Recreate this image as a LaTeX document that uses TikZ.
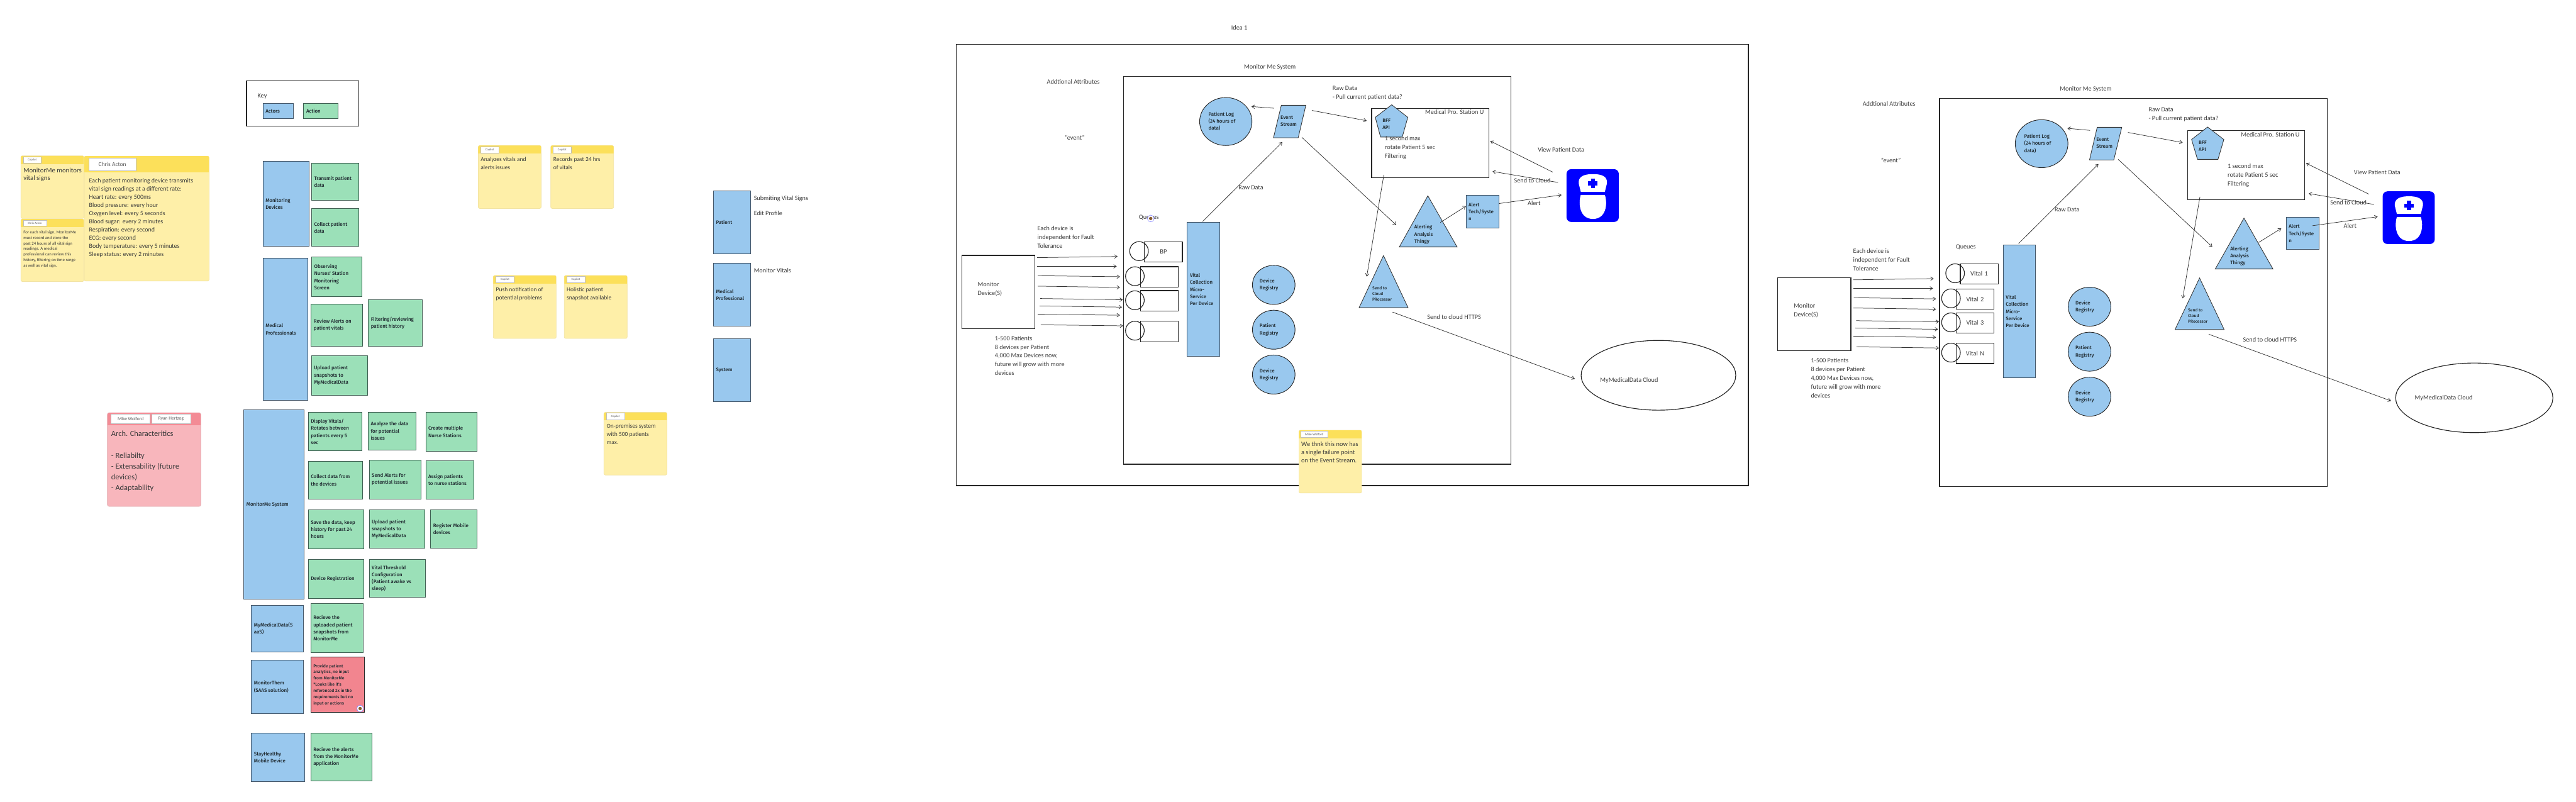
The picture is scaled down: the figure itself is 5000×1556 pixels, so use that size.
\documentclass[tikz,border=0pt]{standalone}
\usepackage{fontspec}
\setmainfont{Carlito}
\newfontfamily\fmed{Fira Sans Medium}
\usetikzlibrary{arrows.meta,shapes.geometric}
\definecolor{actorblue}{HTML}{99C8EE}
\definecolor{actiongreen}{HTML}{9BE0B8}
\definecolor{alertred}{HTML}{F2858F}
\definecolor{stickybody}{HTML}{FEEFA8}
\definecolor{stickyhead}{HTML}{FCE05A}
\definecolor{stickyedge}{HTML}{F2E3A2}
\definecolor{redbody}{HTML}{F8B6BC}
\definecolor{redhead}{HTML}{F38B95}
\definecolor{nurseblue}{HTML}{0000FF}
\definecolor{inktext}{HTML}{1F2A30}
\definecolor{softtext}{HTML}{3A3A3A}
\definecolor{actoredge}{HTML}{44576A}
\definecolor{actionedge}{HTML}{3F5F52}
\tikzset{
  every node/.style={inner sep=0pt,outer sep=0pt},
  shapeedge/.style={line width=0.32pt,draw=black!85},
  actor/.style={shapeedge,draw=actoredge,fill=actorblue,text=inktext,font=\fmed\fontsize{2.75}{3.9}\selectfont},
  action/.style={shapeedge,draw=actionedge,fill=actiongreen,text=inktext,font=\fmed\fontsize{2.75}{3.9}\selectfont},
  redact/.style={shapeedge,fill=alertred,text=inktext,font=\fmed\fontsize{2.35}{3.41}\selectfont},
  whitebox/.style={line width=0.4pt,draw=black!85,fill=none},
  frame/.style={line width=0.5pt,draw=black!85,fill=none},
  queue/.style={line width=0.45pt,draw=black!85,fill=none,align=center,text=softtext,font=\fontsize{3.6}{4.85}\selectfont},
  devicebox/.style={line width=0.45pt,draw=black!85,fill=none,text=softtext,font=\fontsize{3.6}{4.85}\selectfont},
  registry/.style={ellipse,actor,draw=black!85},
  cloudshape/.style={ellipse,line width=0.4pt,draw=black!85,fill=none},
  qcirc/.style={line width=0.4pt,draw=black!85,fill=none},
  solid shape/.style={line width=0.3pt,draw=black!80,fill=actorblue},
  lbl/.style={anchor=north west,align=left,text=softtext,font=\fontsize{3.55}{4.85}\selectfont},
  shapelbl/.style={anchor=north west,align=left,text=inktext,font=\fmed\fontsize{2.75}{3.9}\selectfont},
  tinylbl/.style={anchor=north west,align=left,text=inktext,font=\fmed\fontsize{2.3}{3.1}\selectfont},
  notelbl/.style={anchor=north west,align=left,text=softtext,font=\fontsize{3.3}{4.55}\selectfont},
  bignote/.style={anchor=north west,align=left,text=softtext,font=\fontsize{3.45}{4.52}\selectfont},
  monnote/.style={anchor=north west,align=left,text=softtext,font=\fontsize{3.75}{4.27}\selectfont},
  smallnote/.style={anchor=north west,align=left,text=softtext,font=\fontsize{2.35}{3.07}\selectfont},
  mikenote/.style={anchor=north west,align=left,text=softtext,font=\fontsize{3.6}{4.55}\selectfont},
  archnote/.style={anchor=north west,align=left,text=softtext,font=\fontsize{4.3}{5.97}\selectfont},
  tag/.style={fill=white,draw=black!25,line width=0.2pt,text=black!65,font=\fontsize{1.65}{2}\selectfont},
  tagbig/.style={tag,font=\fontsize{3.3}{4}\selectfont},
  tagmid/.style={tag,font=\fontsize{2.6}{3}\selectfont},
  tagmike/.style={tag,font=\fontsize{1.85}{2}\selectfont},
  conn/.style={line width=0.26pt,draw=black!80,-{Straight Barb[length=1.5pt,width=2pt]}},
}
% #1 style, #2 name, #3-#6 x1 y1 x2 y2, #7 text
\newcommand\cellbox[7]{%
  \pgfmathsetmacro\bxw{(#5-#3)*0.28453}%
  \pgfmathsetmacro\bxh{(#6-#4)*0.28453}%
  \pgfmathsetmacro\bxt{\bxw-2.84}%
  \node[minimum width=\bxw pt,minimum height=\bxh pt,text width=\bxt pt,align=flush left,#1] (#2) at ({(#3+#5)/2},{(#4+#6)/2}) {#7};}
\newcommand\regoval[7]{%
  \pgfmathsetmacro\bxw{(#5-#3)*0.28453}%
  \pgfmathsetmacro\bxh{(#6-#4)*0.28453}%
  \pgfmathsetmacro\bxt{\bxw*0.66}%
  \node[registry,minimum width=\bxw pt,minimum height=\bxh pt,text width=\bxt pt,align=flush left,#1] (#2) at ({(#3+#5)/2},{(#4+#6)/2}) {#7};}
\newcommand\txtat[5]{\node[#1] (#2) at (#3,#4-5.5) {#5};}
\newcommand\linkto[5]{%
  \coordinate (#1-s) at (#2,#3);\coordinate (#1-e) at (#4,#5);
  \draw[conn] (#1-s) -- (#1-e);}
\newcommand\tagbox[6]{%
  \pgfmathsetmacro\bxw{(#4-#2)*0.28453}%
  \pgfmathsetmacro\bxh{(#5-#3)*0.28453}%
  \node[minimum width=\bxw pt,minimum height=\bxh pt,#6] at ({(#2+#4)/2},{(#3+#5)/2}) (#1) {\tagtext};}
% name x1 y1 x2 y2 yhead
\newcommand\stickynote[6]{%
  \pgfmathsetmacro\bxw{(#4-#2)*0.28453}%
  \pgfmathsetmacro\bxh{(#5-#3)*0.28453}%
  \node[minimum width=\bxw pt,minimum height=\bxh pt,fill=stickybody,draw=stickyedge,line width=0.25pt,rounded corners=0.8pt] (#1) at ({(#2+#4)/2},{(#3+#5)/2}) {};
  \begin{scope}
    \clip[rounded corners=0.8pt] (#2,#3) rectangle (#4,#5);
    \fill[stickyhead] (#2,#3) rectangle (#4,#6);
  \end{scope}}
\newcommand\nurseicon[5]{%
  \pgfmathsetmacro\bxw{(#4-#2)*0.28453}%
  \pgfmathsetmacro\bxh{(#5-#3)*0.28453}%
  \node[minimum width=\bxw pt,minimum height=\bxh pt,fill=nurseblue,rounded corners=2.6pt] (#1) at ({(#2+#4)/2},{(#3+#5)/2}) {};
  \pgfmathsetmacro\nicw{(#4-#2)*0.01}%
  \pgfmathsetmacro\nich{(#5-#3)*0.01}%
  \begin{scope}[shift={(#2,#3)},x=\nicw cm,y=-\nich cm]
    \fill[white] (0.273,0.43) -- (0.233,0.27) .. controls (0.22,0.13) and (0.35,0.093) .. (0.506,0.093) .. controls (0.66,0.093) and (0.79,0.13) .. (0.773,0.27) -- (0.733,0.43) -- cycle;
    \fill[white] (0.273,0.487) -- (0.733,0.487) .. controls (0.79,0.65) and (0.76,0.943) .. (0.506,0.943) .. controls (0.25,0.943) and (0.22,0.65) .. (0.273,0.487) -- cycle;
    \fill[nurseblue] (0.416,0.23) rectangle (0.596,0.31);
    \fill[nurseblue] (0.468,0.18) rectangle (0.544,0.36);
  \end{scope}}
\newcommand\avatardot[2]{%
  \fill[white,draw=blue!45!white,line width=0.25pt] (#1,#2) circle [radius=6.5];
  \fill[brown!70!black] (#1,#2) circle [radius=3.2];}
\begin{document}
\begin{tikzpicture}[x=0.01cm,y=-0.01cm]
\useasboundingbox (0,0) rectangle (5000,1556);
% ---- Key
\cellbox{whitebox}{keybox}{478.5}{157.3}{696}{244.3}{}
\txtat{lbl}{keylbl}{500}{187}{Key}
\cellbox{actor}{keyactor}{510.5}{201.3}{569}{230.3}{Actors}
\cellbox{action}{keyaction}{589.5}{201.3}{655.5}{230.3}{Action}
% ---- Notes at the far left
\stickynote{n1}{40.7}{302.3}{162.7}{424}{318}
\def\tagtext{Copilot}\tagbox{n1t}{45}{304.3}{80}{316.3}{tag}
\txtat{monnote}{n1x}{45.5}{331}{MonitorMe monitors\\vital signs}
\stickynote{n2}{40.7}{425}{162.7}{546.3}{440.3}
\def\tagtext{Chris Acton}\tagbox{n2t}{45}{427}{90.4}{439}{tag}
\txtat{smallnote}{n2x}{45.5}{453}{For each vital sign, MonitorMe\\must record and store the\\past 24 hours of all vital sign\\readings. A medical\\professional can review this\\history, filtering on time range\\as well as vital sign.}
\stickynote{n3}{163.6}{303}{405.7}{545.3}{334.7}
\def\tagtext{Chris Acton}\tagbox{n3t}{172.7}{306.7}{263.6}{331.7}{tagbig}
\txtat{bignote}{n3x}{173}{352}{Each patient monitoring device transmits\\vital sign readings at a different rate:\\Heart rate: every 500ms\\Blood pressure: every hour\\Oxygen level: every 5 seconds\\Blood sugar: every 2 minutes\\Respiration: every second\\ECG: every second\\Body temperature: every 5 minutes\\Sleep status: every 2 minutes}
% red note
\pgfmathsetmacro\redw{(389.7-208.6)*0.28453}
\pgfmathsetmacro\redh{(982.7-801)*0.28453}
\node[minimum width=\redw pt,minimum height=\redh pt,fill=redbody,draw=redbody!90!black,line width=0.25pt,rounded corners=1pt] (n4) at (299.15,891.85) {};
\begin{scope}
  \clip[rounded corners=1pt] (208.6,801) rectangle (389.7,982.7);
  \fill[redhead] (208.6,801) rectangle (389.7,824.7);
\end{scope}
\def\tagtext{Mike Wolford}\tagbox{n4a}{215.7}{804}{291.2}{822.3}{tagmid}
\def\tagtext{Ryan Hertzog}\tagbox{n4b}{294.3}{804}{369.8}{822.3}{tagmid}
\txtat{archnote}{n4x}{216}{842}{Arch. Characteritics\\[\baselineskip]- Reliabilty\\- Extensability (future\\devices)\\- Adaptability}
% ---- Actor / action grid
\cellbox{actor}{aDev}{510.5}{313.3}{600.5}{478.3}{Monitoring\\Devices}
\cellbox{action}{acTransmit}{604.8}{316.3}{696.7}{389.3}{Transmit patient\\data}
\cellbox{action}{acCollect}{604.8}{405}{696.7}{478}{Collect patient\\data}
\cellbox{actor}{aMed}{510.5}{501}{597.6}{776.7}{Medical\\Professionals}
\cellbox{action}{acObserve}{604.8}{499}{702}{576}{Observing\\Nurses' Station\\Monitoring\\Screen}
\cellbox{action}{acReview}{604}{590}{704}{672}{Review Alerts on\\patient vitals}
\cellbox{action}{acFilter}{715}{582}{820}{672}{Filtering/reviewing\\patient history}
\cellbox{action}{acUpload1}{604.5}{690}{713.7}{767}{Upload patient\\snapshots to\\MyMedicalData}
\cellbox{actor}{aSys}{473.4}{795}{590.7}{1162.3}{MonitorMe System}
\cellbox{action}{acDisplay}{598.4}{800.3}{702.4}{875}{Display Vitals/\\Rotates between\\patients every 5\\sec}
\cellbox{action}{acAnalyze}{714.7}{799.7}{808}{873}{Analyze the data\\for potential\\issues}
\cellbox{action}{acCreate}{826.4}{799.7}{925.4}{876.3}{Create multiple\\Nurse Stations}
\cellbox{action}{acData}{598.4}{895.7}{703.5}{968.3}{Collect data from\\the devices}
\cellbox{action}{acSend}{716.7}{892.3}{816.7}{968.3}{Send Alerts for\\potential issues}
\cellbox{action}{acAssign}{826.4}{894.3}{919.8}{968.3}{Assign patients\\to nurse stations}
\cellbox{action}{acSave}{598.4}{989.3}{706}{1065}{Save the data, keep\\history for past 24\\hours}
\cellbox{action}{acUpload2}{716.7}{989.3}{825}{1064.3}{Upload patient\\snapshots to\\MyMedicalData}
\cellbox{action}{acRegister}{836}{989.3}{925.4}{1063.3}{Register Mobile\\devices}
\cellbox{action}{acDevice}{598.4}{1085.7}{706}{1161.3}{Device Registration}
\cellbox{action}{acVital}{716.7}{1085.7}{825.4}{1159.3}{Vital Threshold\\Configuration\\(Patient awake vs\\sleep)}
\cellbox{actor}{aMmd}{488}{1174.7}{589.3}{1265.3}{MyMedicalData(S\\aaS)}
\cellbox{action}{acRecv}{603.3}{1171.3}{704.7}{1266.7}{Recieve the\\uploaded patient\\snapshots from\\MonitorMe}
\cellbox{actor}{aThem}{488}{1281.3}{588.7}{1384.3}{MonitorThem\\(SAAS solution)}
\cellbox{redact}{acProvide}{603.3}{1275.3}{706.7}{1382.3}{Provide patient\\analytics, no input\\from MonitorMe\\**Looks like it's\\referenced 2x in the\\requirements but no\\input or actions}
\avatardot{699}{1375}
\cellbox{actor}{aStay}{488}{1422.7}{591.7}{1516.3}{StayHealthy\\Mobile Device}
\cellbox{action}{acAlerts}{603.3}{1422.7}{721.7}{1515}{Recieve the alerts\\from the MonitorMe\\application}
% ---- Middle notes
\stickynote{n5}{928.3}{282.5}{1050.3}{404.5}{297.8}
\def\tagtext{Copilot}\tagbox{n5t}{932.6}{284.4}{968.5}{296.9}{tag}
\txtat{notelbl}{n5x}{933}{311}{Analyzes vitals and\\alerts issues}
\stickynote{n6}{1069}{282.5}{1191}{404.5}{297.8}
\def\tagtext{Copilot}\tagbox{n6t}{1073.3}{284.4}{1109}{296.9}{tag}
\txtat{notelbl}{n6x}{1074}{311}{Records past 24 hrs\\of vitals}
\stickynote{n7}{957.5}{534.7}{1079.5}{656.7}{550}
\def\tagtext{Copilot}\tagbox{n7t}{962.3}{536.6}{998.2}{549}{tag}
\txtat{notelbl}{n7x}{962.8}{563}{Push notification of\\potential problems}
\stickynote{n8}{1095.3}{534.7}{1217.3}{656.7}{550}
\def\tagtext{Copilot}\tagbox{n8t}{1099.6}{536.6}{1135.5}{549}{tag}
\txtat{notelbl}{n8x}{1100}{563}{Holistic patient\\snapshot available}
\stickynote{n9}{1172.3}{800.2}{1294.4}{921.8}{815.5}
\def\tagtext{Copilot}\tagbox{n9t}{1176.7}{801.7}{1212}{814.6}{tag}
\txtat{notelbl}{n9x}{1177.6}{828}{On-premises system\\with 500 patients\\max.}
\cellbox{actor}{uPatient}{1384.8}{370.6}{1456.5}{492.6}{Patient}
\cellbox{actor}{uMedical}{1384.8}{511.2}{1456.5}{632.8}{Medical\\Professional}
\cellbox{actor}{uSystem}{1384.8}{657.7}{1456.5}{778.7}{System}
\txtat{lbl}{uPa}{1463.3}{385}{Submiting Vital Signs}
\txtat{lbl}{uPb}{1463.3}{414.6}{Edit Profile}
\txtat{lbl}{uMa}{1463.3}{525.6}{Monitor Vitals}
% ======== Idea 1
\txtat{lbl}{idea}{2390}{55}{Idea 1}
\cellbox{frame}{outerA}{1856.5}{86}{3393}{942.3}{}
\cellbox{frame}{innerA}{2181}{148.3}{2932.8}{900.7}{}
\txtat{lbl}{sysA}{2414.7}{130.7}{Monitor Me System}
\txtat{lbl}{attrA}{2032}{159.7}{Addtional Attributes}
\txtat{lbl}{evA}{2067}{268.7}{"event"}
\regoval{}{logA}{2328.5}{189.3}{2430}{282.3}{Patient Log\\(24 hours of\\data)}
\path[solid shape] (2487,204.3) -- (2534.6,204.3) -- (2519.8,267.3) -- (2471.8,267.3) -- cycle;
\txtat{shapelbl}{strA}{2485.6}{230}{Event\\Stream}
\linkto{a1}{2472.9}{210}{2429}{206.7}
\linkto{a2}{2334}{430}{2489}{275.7}
\txtat{lbl}{rawA1}{2404}{365}{Raw Data}
\linkto{a3}{2546.3}{214.3}{2652.8}{234.3}
\linkto{a4}{2527}{266.7}{2710}{436.7}
\txtat{lbl}{rawA2}{2586.5}{172.7}{Raw Data\\- Pull current patient data?}
\cellbox{whitebox}{stA}{2662.4}{210.7}{2889.4}{344.7}{}
\path[solid shape] (2701.3,203.3) -- (2732.5,227.7) -- (2721.7,266) -- (2679.6,266) -- (2669.4,227.7) -- cycle;
\txtat{shapelbl}{bffA}{2683.4}{235.7}{BFF\\API}
\txtat{lbl}{stA1}{2766.3}{218.7}{Medical Pro. Station U}
\txtat{lbl}{stA2}{2687.9}{270}{1 second max\\rotate Patient 5 sec\\Filtering}
\linkto{a5}{2686}{339.3}{2652.8}{536.7}
\path[solid shape] (2771.4,380) -- (2828.2,479.3) -- (2716,479.3) -- cycle;
\txtat{shapelbl}{anA}{2745.3}{442}{Alerting\\Analysis\\Thingy}
\cellbox{actor}{techA}{2845.4}{378.7}{2909.2}{442.3}{Alert\\Tech/Syste\\n}
\linkto{a6}{2795.7}{431.7}{2845.4}{400}
\linkto{a7}{2909.2}{395}{3031}{378.3}
\txtat{lbl}{alA}{2965.3}{395.7}{Alert}
\txtat{lbl}{viewA}{2985}{291.7}{View Patient Data}
\linkto{a8}{3013.8}{334}{2892.6}{273.7}
\linkto{a9}{3024}{354}{2897}{332.7}
\txtat{lbl}{scA}{2939}{351.7}{Send to Cloud}
\nurseicon{nurseA}{3040.6}{328.3}{3142}{430.7}
\path[solid shape] (2685.3,496) -- (2733,597) -- (2638,597) -- cycle;
\txtat{tinylbl}{procA}{2663.6}{561.3}{Send to\\Cloud\\PRocessor}
\linkto{a10}{2703}{605.7}{3056.8}{735.3}
\txtat{lbl}{httpsA}{2770.3}{616.7}{Send to cloud HTTPS}
\pgfmathsetmacro\cldw{300*0.28453}\pgfmathsetmacro\cldh{135.3*0.28453}
\node[cloudshape,minimum width=\cldw pt,minimum height=\cldh pt] (cloudA) at (3219,728.3) {};
\txtat{lbl}{cloudAx}{3106}{738.7}{MyMedicalData Cloud}
\txtat{lbl}{queA}{2210.5}{422.7}{Queues}
\avatardot{2233.5}{424}
\cellbox{actor}{vcA}{2304.6}{432}{2367.8}{691}{Vital\\Collection\\Micro-\\Service\\Per Device}
\txtat{lbl}{eachA}{2013.6}{444.7}{Each device is\\independent for Fault\\Tolerance}
\cellbox{devicebox}{devA}{1867.2}{495.7}{2009}{637.7}{}
\txtat{lbl}{devAx}{1897.6}{552.7}{Monitor\\Device(S)}
\linkto{b1}{2013}{500}{2169.2}{497.7}
\linkto{b2}{2013}{517}{2167.5}{517}
\linkto{b3}{2014.2}{535}{2173.8}{537}
\linkto{b4}{2014.2}{555.3}{2173.8}{557.7}
\linkto{b5}{2019.3}{579.3}{2179.5}{581.7}
\linkto{b6}{2017.6}{593.7}{2177.8}{596}
\linkto{b7}{2014.2}{609.7}{2173.8}{611.7}
\linkto{b8}{2020}{630.3}{2180}{632.3}
\cellbox{queue}{qA1}{2221.4}{469}{2294.9}{508.7}{BP}
\cellbox{queue}{qA2}{2213.4}{517.7}{2286.9}{557}{}
\cellbox{queue}{qA3}{2213.4}{564}{2286.9}{603.7}{}
\cellbox{queue}{qA4}{2213.4}{623.3}{2286.9}{663}{}
\draw[qcirc] (2210.8,487.3) ellipse [x radius=18.1,y radius=18.4];
\draw[qcirc] (2202.8,536) ellipse [x radius=18.1,y radius=18.3];
\draw[qcirc] (2202.8,582.7) ellipse [x radius=18.1,y radius=18.35];
\draw[qcirc] (2202.8,641.7) ellipse [x radius=18.1,y radius=18.35];
\regoval{}{regA1}{2431}{515}{2513.6}{590.7}{Device\\Registry}
\regoval{}{regA2}{2431}{602}{2513.6}{677.7}{Patient\\Registry}
\regoval{}{regA3}{2431}{689}{2513.6}{764.7}{Device\\Registry}
\txtat{lbl}{patA}{1931}{657.3}{1-500 Patients\\8 devices per Patient\\4,000 Max Devices now,\\future will grow with more\\devices}
% Mike sticky
\stickynote{n10}{2521.2}{835}{2642.9}{956.7}{851}
\def\tagtext{Mike Wolford}\tagbox{n10t}{2525.2}{836.7}{2576.9}{849.3}{tagmike}
\txtat{mikenote}{n10x}{2525.8}{863}{We thnk this now has\\a single failure point\\on the Event Stream.}
% ======== Second diagram
\txtat{lbl}{sysB}{3998.3}{172.7}{Monitor Me System}
\cellbox{frame}{innerB}{3764.7}{191}{4516.8}{943.7}{}
\txtat{lbl}{attrB}{3615.4}{202.7}{Addtional Attributes}
\txtat{lbl}{evB}{3651}{311.7}{"event"}
\regoval{}{logB}{3911.6}{232.3}{4013.8}{325.3}{Patient Log\\(24 hours of\\data)}
\path[solid shape] (4070.6,247) -- (4118.3,247) -- (4102.8,310.3) -- (4055.7,310.3) -- cycle;
\txtat{shapelbl}{strB}{4069}{273}{Event\\Stream}
\linkto{c1}{4056.9}{253}{4012.7}{249}
\linkto{c2}{3918}{472.7}{4073}{318.3}
\txtat{lbl}{rawB1}{3988}{407.7}{Raw Data}
\linkto{c3}{4130.3}{257}{4236.5}{276.7}
\linkto{c4}{4111.4}{309.3}{4294}{479}
\txtat{lbl}{rawB2}{4170.5}{214.7}{Raw Data\\- Pull current patient data?}
\cellbox{whitebox}{stB}{4246.4}{253.5}{4473}{387.9}{}
\path[solid shape] (4284.8,246.5) -- (4316.4,270.7) -- (4305,309.3) -- (4265.3,309.3) -- (4253.8,270.7) -- cycle;
\txtat{shapelbl}{bffB}{4267.6}{278.8}{BFF\\API}
\txtat{lbl}{stB1}{4349.7}{262}{Medical Pro. Station U}
\txtat{lbl}{stB2}{4323.9}{323.7}{1 second max\\rotate Patient 5 sec\\Filtering}
\linkto{c5}{4270}{382}{4236.6}{579}
\path[solid shape] (4355.5,423.3) -- (4411.7,522) -- (4299.8,522) -- cycle;
\txtat{shapelbl}{anB}{4329}{484}{Alerting\\Analysis\\Thingy}
\cellbox{actor}{techB}{4437.5}{421.6}{4500.7}{484.4}{Alert\\Tech/Syste\\n}
\linkto{c6}{4384.2}{470.4}{4427.8}{443.3}
\linkto{c7}{4488.6}{438}{4615}{420.5}
\txtat{lbl}{alB}{4549}{438.8}{Alert}
\txtat{lbl}{viewB}{4569}{335}{View Patient Data}
\linkto{c8}{4597.7}{376.7}{4476}{316.7}
\linkto{c9}{4608}{396.7}{4481.2}{375.6}
\txtat{lbl}{scB}{4523}{393.9}{Send to Cloud}
\nurseicon{nurseB}{4624.7}{371.4}{4725.7}{473.5}
\path[solid shape] (4269.3,539.5) -- (4317,639.5) -- (4221.7,639.5) -- cycle;
\txtat{tinylbl}{procB}{4247}{604.4}{Send to\\Cloud\\PRocessor}
\linkto{c10}{4287.1}{648.6}{4641}{778}
\txtat{lbl}{httpsB}{4353.7}{659.8}{Send to cloud HTTPS}
\pgfmathsetmacro\cldw{305*0.28453}\pgfmathsetmacro\cldh{135*0.28453}
\node[cloudshape,minimum width=\cldw pt,minimum height=\cldh pt] (cloudB) at (4802.5,772) {};
\txtat{lbl}{cloudBx}{4687}{772}{MyMedicalData Cloud}
\txtat{lbl}{queB}{3796.2}{480.7}{Queues}
\cellbox{actor}{vcB}{3888.1}{475}{3951.2}{733.3}{Vital\\Collection\\Micro-\\Service\\Per Device}
\txtat{lbl}{eachB}{3597}{487.7}{Each device is\\independent for Fault\\Tolerance}
\cellbox{devicebox}{devB}{3450.7}{538.7}{3592.5}{680.3}{}
\txtat{lbl}{devBx}{3481.7}{594.7}{Monitor\\Device(S)}
\linkto{d1}{3597}{543}{3753.2}{540.7}
\linkto{d2}{3597}{559.7}{3752}{559.7}
\linkto{d3}{3598.2}{577.7}{3757.8}{580}
\linkto{d4}{3597.6}{597.7}{3757.8}{600}
\linkto{d5}{3602.8}{622.3}{3763.5}{624.3}
\linkto{d6}{3601}{636.7}{3761.8}{639}
\linkto{d7}{3597.6}{652.3}{3757.8}{654.7}
\linkto{d8}{3603.4}{673}{3763.5}{675.3}
\cellbox{queue}{qB1}{3804.9}{511.7}{3878.3}{551}{Vital 1}
\cellbox{queue}{qB2}{3796.8}{560.7}{3870.3}{600}{Vital 2}
\cellbox{queue}{qB3}{3796.8}{607}{3870.3}{646.3}{Vital 3}
\cellbox{queue}{qB4}{3796.8}{666.3}{3870.3}{705.7}{Vital N}
\draw[qcirc] (3794.8,530.3) ellipse [x radius=18.1,y radius=18.35];
\draw[qcirc] (3786.8,579) ellipse [x radius=18.1,y radius=18.3];
\draw[qcirc] (3786.8,625.6) ellipse [x radius=18.1,y radius=18.35];
\draw[qcirc] (3786.8,684.3) ellipse [x radius=18.1,y radius=18.35];
\regoval{}{regB1}{4014.4}{557.3}{4097}{633}{Device\\Registry}
\regoval{}{regB2}{4014.4}{644.7}{4097}{720.3}{Patient\\Registry}
\regoval{}{regB3}{4014.4}{732}{4097}{807.7}{Device\\Registry}
\txtat{lbl}{patB}{3515}{700.7}{1-500 Patients\\8 devices per Patient\\4,000 Max Devices now,\\future will grow with more\\devices}
\end{tikzpicture}
\end{document}
